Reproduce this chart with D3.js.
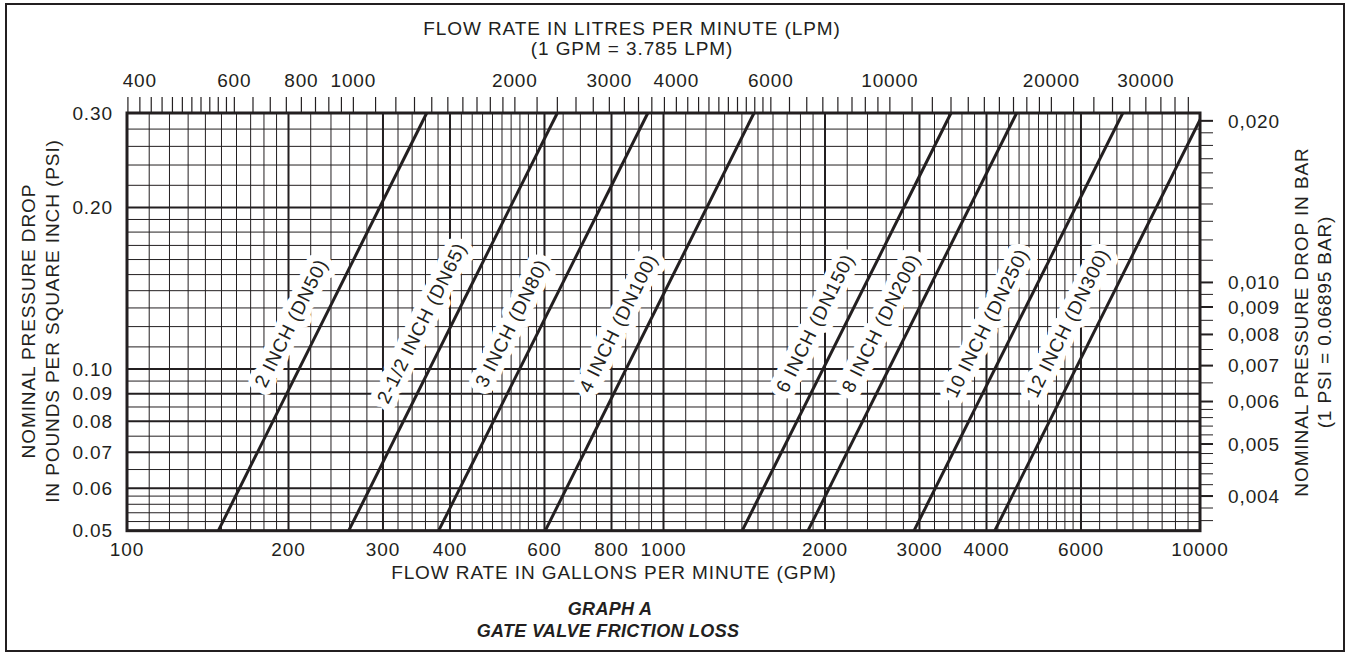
<!DOCTYPE html>
<html>
<head>
<meta charset="utf-8">
<script src="https://cdn.jsdelivr.net/npm/d3@7/dist/d3.min.js"></script>
<style>
  body { margin: 0; background: #fff; }
  svg { display: block; }
  text { font-family: "Liberation Sans", Arial, Helvetica, sans-serif; fill: #231f20; letter-spacing: 0.9px; }
</style>
</head>
<body>
<svg id="chart" width="1350" height="656"></svg>
<script>
// tick labels
const gpmTicks = [100, 200, 300, 400, 600, 800, 1000, 2000, 3000, 4000, 6000, 10000];
const lpmTicks = [400, 600, 800, 1000, 2000, 3000, 4000, 6000, 10000, 20000, 30000];
const psiTicks = [0.05, 0.06, 0.07, 0.08, 0.09, 0.10, 0.20, 0.30];
const barTicks = [0.004, 0.005, 0.006, 0.007, 0.008, 0.009, 0.010, 0.020];

// valve sizes, flow (gpm) read where each line crosses 0.05 psi and 0.30 psi
const sizes = ['2 INCH (DN50)', '2-1/2 INCH (DN65)', '3 INCH (DN80)', '4 INCH (DN100)',
               '6 INCH (DN150)', '8 INCH (DN200)', '10 INCH (DN250)', '12 INCH (DN300)'];
const gpmAtLow  = [148, 259, 381, 602, 1402, 1859, 2931, 4145];
const gpmAtHigh = [362, 634, 935, 1475, 3435, 4553, 7180, 10150];
const psiLow = 0.05, psiHigh = 0.30;

const GPM_TO_LPM = 3.785;
const PSI_TO_BAR = 0.06895;

let svg = d3.select('#chart');
let pLeft = 127, pRight = 1200, pTop = 113, pBottom = 530.7;
let ink = '#231f20';

let x = d3.scaleLog().domain([100, 10000]).range([pLeft, pRight]);
let y = d3.scaleLog().domain([0.05, 0.30]).range([pBottom, pTop]);

// outer frame
svg.append('rect')
  .attr('x', 6).attr('y', 4).attr('width', 1338).attr('height', 647)
  .attr('fill', 'none').attr('stroke', ink).attr('stroke-width', 2);

/************** grid ***************/
// minor lines
let gpmMinor = [].concat(d3.range(110, 200, 10), d3.range(220, 600, 20), d3.range(650, 1000, 50),
  d3.range(1100, 2000, 100), d3.range(2200, 6000, 200), d3.range(6500, 10000, 500));
let psiMinor = [].concat(d3.range(0.052, 0.0599, 0.002), [0.065, 0.075, 0.085, 0.095],
  d3.range(0.11, 0.199, 0.01), d3.range(0.22, 0.299, 0.02));

let grid = svg.append('g');
grid.selectAll('line.vminor').data(gpmMinor).enter().append('line')
  .attr('x1', d => x(d)).attr('x2', d => x(d)).attr('y1', pTop).attr('y2', pBottom)
  .attr('stroke', ink).attr('stroke-width', 1);
grid.selectAll('line.hminor').data(psiMinor).enter().append('line')
  .attr('y1', d => y(d)).attr('y2', d => y(d)).attr('x1', pLeft).attr('x2', pRight)
  .attr('stroke', ink).attr('stroke-width', 1);
grid.selectAll('line.vmajor').data(gpmTicks).enter().append('line')
  .attr('x1', d => x(d)).attr('x2', d => x(d)).attr('y1', pTop).attr('y2', pBottom)
  .attr('stroke', ink).attr('stroke-width', 2);
grid.selectAll('line.hmajor').data(psiTicks).enter().append('line')
  .attr('y1', d => y(d)).attr('y2', d => y(d)).attr('x1', pLeft).attr('x2', pRight)
  .attr('stroke', ink).attr('stroke-width', 2);

// plot border
svg.append('rect')
  .attr('x', pLeft).attr('y', pTop).attr('width', pRight - pLeft).attr('height', pBottom - pTop)
  .attr('fill', 'none').attr('stroke', ink).attr('stroke-width', 3);

/************** valve lines ***************/
svg.append('clipPath').attr('id', 'plotClip')
  .append('rect').attr('x', pLeft).attr('y', pTop - 1).attr('width', pRight - pLeft).attr('height', pBottom - pTop + 2);

let lineGen = d3.line().x(d => x(d[0])).y(d => y(d[1]));
let series = sizes.map((s, i) => ({ name: s, pts: [[gpmAtLow[i], psiLow], [gpmAtHigh[i], psiHigh]] }));

svg.append('g').attr('clip-path', 'url(#plotClip)')
  .selectAll('path').data(series).enter().append('path')
  .attr('d', d => lineGen(d.pts))
  .attr('fill', 'none').attr('stroke', ink).attr('stroke-width', 3);

// labels parallel to each line, with white halo
let labelY = 323;
svg.append('g').selectAll('text').data(series).enter().append('text')
  .attr('transform', d => {
    let x0 = x(d.pts[0][0]), y0 = y(d.pts[0][1]);
    let x1 = x(d.pts[1][0]), y1 = y(d.pts[1][1]);
    let t = (labelY - y0) / (y1 - y0);
    let lx = x0 + t * (x1 - x0) - 31;
    let ang = Math.atan2(y1 - y0, x1 - x0) * 180 / Math.PI;
    return `translate(${lx},${labelY}) rotate(${ang})`;
  })
  .attr('text-anchor', 'middle').attr('dy', '0.35em')
  .style('font-size', '19px')
  .style('paint-order', 'stroke')
  .style('stroke', '#fff').style('stroke-width', 14).style('stroke-linejoin', 'round')
  .text(d => d.name);

/************** axes ***************/
// bottom labels (gpm)
svg.append('g').selectAll('text').data(gpmTicks).enter().append('text')
  .attr('x', d => x(d)).attr('y', 556)
  .attr('text-anchor', 'middle').style('font-size', '19px')
  .text(d => d);

// left labels (psi)
svg.append('g').selectAll('text').data(psiTicks).enter().append('text')
  .attr('x', 113).attr('y', d => y(d)).attr('dy', '0.35em')
  .attr('text-anchor', 'end').style('font-size', '19px')
  .text(d => d3.format('.2f')(d));

// top axis (lpm)
let lpmMinor = [].concat(d3.range(380, 600, 20), d3.range(600, 1000, 50),
  d3.range(1000, 2000, 100), d3.range(2000, 6000, 200), d3.range(6000, 10000, 500),
  d3.range(10000, 20000, 1000), d3.range(20000, 37000, 2000));
let xl = d => x(d / GPM_TO_LPM);
svg.append('g').selectAll('line').data(lpmMinor).enter().append('line')
  .attr('x1', xl).attr('x2', xl).attr('y1', pTop).attr('y2', 97)
  .attr('stroke', ink).attr('stroke-width', 1.2);
svg.append('g').selectAll('text').data(lpmTicks).enter().append('text')
  .attr('x', xl).attr('y', 87)
  .attr('text-anchor', 'middle').style('font-size', '19px')
  .text(d => d);

// right axis (bar)
let barMinor = [].concat(d3.range(0.0036, 0.00599, 0.0002), d3.range(0.0065, 0.0099, 0.0005),
  d3.range(0.011, 0.0199, 0.001));
let yb = d => y(d / PSI_TO_BAR);
svg.append('g').selectAll('line').data(barMinor).enter().append('line')
  .attr('x1', pRight).attr('x2', 1213).attr('y1', yb).attr('y2', yb)
  .attr('stroke', ink).attr('stroke-width', 1);
svg.append('g').selectAll('line').data(barTicks).enter().append('line')
  .attr('x1', pRight).attr('x2', 1213).attr('y1', yb).attr('y2', yb)
  .attr('stroke', ink).attr('stroke-width', 2);
svg.append('g').selectAll('text').data(barTicks).enter().append('text')
  .attr('x', 1228).attr('y', yb).attr('dy', '0.35em')
  .style('font-size', '19px')
  .text(d => d3.format('.3f')(d).replace('.', ','));

/************** titles ***************/
svg.append('text').attr('x', 632).attr('y', 35).attr('text-anchor', 'middle')
  .style('font-size', '19px').text('FLOW RATE IN LITRES PER MINUTE (LPM)');
svg.append('text').attr('x', 632).attr('y', 55).attr('text-anchor', 'middle')
  .style('font-size', '19px').text('(1 GPM = 3.785 LPM)');
svg.append('text').attr('x', 614).attr('y', 579).attr('text-anchor', 'middle')
  .style('font-size', '19px').text('FLOW RATE IN GALLONS PER MINUTE (GPM)');

svg.append('text').attr('transform', 'translate(28,321) rotate(-90)').attr('dy', '0.35em')
  .attr('text-anchor', 'middle').style('font-size', '19px').text('NOMINAL PRESSURE DROP');
svg.append('text').attr('transform', 'translate(52,321) rotate(-90)').attr('dy', '0.35em')
  .attr('text-anchor', 'middle').style('font-size', '19px').text('IN POUNDS PER SQUARE INCH (PSI)');
svg.append('text').attr('transform', 'translate(1301,322) rotate(-90)').attr('dy', '0.35em')
  .attr('text-anchor', 'middle').style('font-size', '19px').text('NOMINAL PRESSURE DROP IN BAR');
svg.append('text').attr('transform', 'translate(1324,322) rotate(-90)').attr('dy', '0.35em')
  .attr('text-anchor', 'middle').style('font-size', '19px').text('(1 PSI = 0.06895 BAR)');

svg.append('text').attr('x', 610).attr('y', 615).attr('text-anchor', 'middle')
  .style('font-size', '18px').style('font-weight', 'bold').style('font-style', 'italic')
  .style('letter-spacing', '0.3px').text('GRAPH A');
svg.append('text').attr('x', 608).attr('y', 637).attr('text-anchor', 'middle')
  .style('font-size', '18px').style('font-weight', 'bold').style('font-style', 'italic')
  .style('letter-spacing', '0.3px').text('GATE VALVE FRICTION LOSS');
</script>
</body>
</html>
